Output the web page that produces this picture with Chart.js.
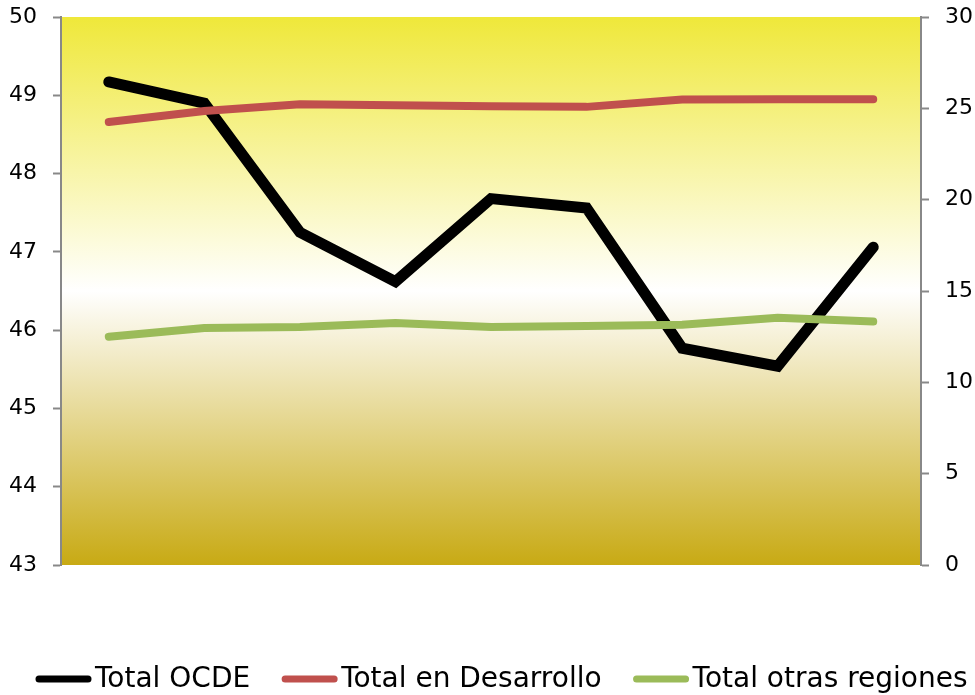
<!DOCTYPE html>
<html>
<head>
<meta charset="utf-8">
<script src="https://cdn.jsdelivr.net/npm/chart.js@4"></script>
<style>
  html, body { margin: 0; padding: 0; background: #fff; }
  #wrap { width: 975px; height: 695px; }
</style>
</head>
<body>
<div id="wrap"><canvas id="grafico"></canvas></div>
<script>
// datos
var categorias = ["1", "2", "3", "4", "5", "6", "7", "8", "9"];
var totalOCDE = [49.17, 48.90, 47.25, 46.62, 47.68, 47.56, 45.77, 45.54, 47.06];
var totalDesarrollo = [24.25, 24.85, 25.22, 25.17, 25.12, 25.08, 25.48, 25.50, 25.50];
var totalOtras = [12.50, 12.98, 13.03, 13.25, 13.03, 13.08, 13.15, 13.53, 13.33];
var ticksIzq = [43, 44, 45, 46, 47, 48, 49, 50];
var ticksDer = [0, 5, 10, 15, 20, 25, 30];

var FUENTE = "'DejaVu Sans', Verdana, sans-serif";

var fondo = {
    id: "fondo",
    beforeDraw: function (chart) {
        var a = chart.chartArea;
        var ctx = chart.ctx;
        var g = ctx.createLinearGradient(0, a.top, 0, a.bottom);
        g.addColorStop(0, "#efe83a");
        g.addColorStop(0.5, "#ffffff");
        g.addColorStop(1, "#c8aa14");
        ctx.save();
        ctx.fillStyle = g;
        ctx.fillRect(a.left, a.top, a.right - a.left, a.bottom - a.top);
        ctx.restore();
    }
};

// leyenda dibujada a mano (linea corta + texto pegado)
var leyenda = {
    id: "leyenda",
    afterDraw: function (chart) {
        var ctx = chart.ctx;
        var y = 679;
        var x = 36;
        ctx.save();
        ctx.font = "28px " + FUENTE;
        ctx.textBaseline = "middle";
        ctx.textAlign = "left";
        chart.data.datasets.forEach(function (ds) {
            ctx.strokeStyle = ds.borderColor;
            ctx.lineWidth = 7;
            ctx.lineCap = "round";
            ctx.beginPath();
            ctx.moveTo(x + 3, y);
            ctx.lineTo(x + 52, y);
            ctx.stroke();
            ctx.fillStyle = "#000";
            ctx.fillText(ds.label, x + 59, y + 1);
            x += 59 + ctx.measureText(ds.label).width + 32;
        });
        ctx.restore();
    }
};

function sinRelleno(s) {
    s.paddingTop = 0;
    s.paddingBottom = 0;
}

function cargaGrafico() {
    "use strict";
    var fuente = { family: FUENTE, size: 22 };
    var ctx = document.getElementById("grafico").getContext("2d");
    new Chart(ctx, {
        type: "line",
        data: {
            labels: categorias,
            datasets: [{
                label: "Total OCDE",
                data: totalOCDE,
                borderColor: "#000000",
                backgroundColor: "#000000",
                borderWidth: 11,
                yAxisID: "y",
                order: 1
            }, {
                label: "Total en Desarrollo",
                data: totalDesarrollo,
                borderColor: "#c0504d",
                backgroundColor: "#c0504d",
                borderWidth: 8,
                yAxisID: "y2",
                order: 0
            }, {
                label: "Total otras regiones",
                data: totalOtras,
                borderColor: "#9bbb59",
                backgroundColor: "#9bbb59",
                borderWidth: 8,
                yAxisID: "y2",
                order: 0
            }]
        },
        options: {
            responsive: true,
            maintainAspectRatio: false,
            animation: false,
            layout: { padding: { left: -7, right: -14, top: 17, bottom: 130 } },
            elements: {
                point: { radius: 0, hoverRadius: 0 },
                line: { tension: 0, borderCapStyle: "round", borderJoinStyle: "miter" }
            },
            plugins: {
                tooltip: { enabled: false },
                legend: { display: false }
            },
            scales: {
                x: { type: "category", offset: true, display: false },
                y: {
                    position: "left",
                    min: 43,
                    max: 50,
                    afterBuildTicks: function (s) { s.ticks = ticksIzq.map(function (v) { return { value: v }; }); },
                    afterFit: sinRelleno,
                    ticks: { color: "#000", font: fuente, padding: 16 },
                    grid: { drawOnChartArea: false, tickLength: 8, tickColor: "#888", tickWidth: 2 },
                    border: { color: "#888", width: 2 }
                },
                y2: {
                    position: "right",
                    min: 0,
                    max: 30,
                    afterBuildTicks: function (s) { s.ticks = ticksDer.map(function (v) { return { value: v }; }); },
                    afterFit: sinRelleno,
                    ticks: { color: "#000", font: fuente, padding: 16 },
                    grid: { drawOnChartArea: false, tickLength: 8, tickColor: "#888", tickWidth: 2 },
                    border: { color: "#888", width: 2 }
                }
            }
        },
        plugins: [fondo, leyenda]
    });
}

window.onload = function () {
    cargaGrafico();
};
</script>
</body>
</html>
